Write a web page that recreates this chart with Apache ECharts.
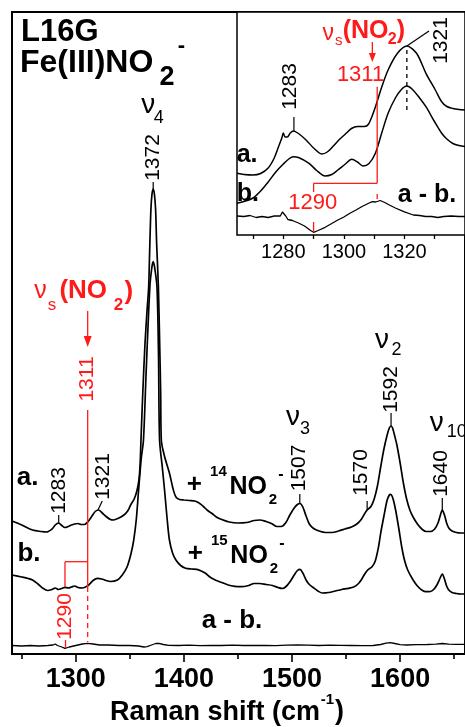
<!DOCTYPE html>
<html><head><meta charset="utf-8">
<script src="https://cdn.jsdelivr.net/npm/echarts@6/dist/echarts.min.js"></script>
<style>html,body{margin:0;padding:0;background:#fff}#c{width:465px;height:727px}</style>
</head><body><div id="c"></div>
<script>
const FONT = "'Liberation Sans', Arial, Helvetica, sans-serif";

// ---- main spectrum a. (+14NO2-) : Raman shift (cm-1), intensity (arb.)
const aShift = [1241,1250,1260,1268,1273,1278,1281,1284,1287,1290,1293,1296,1299,1302,1305,1308,1311,1315,1318,1321,1324,1328,1332,1335,1339,1344.5,1348,1351,1354,1356.5,1358.5,1359.5,1360.3,1362,1364,1366,1367.4,1368.5,1369.5,1370.5,1371.6,1372.7,1373.8,1374.8,1376.4,1377.6,1378.5,1379.1,1382,1386.6,1390,1392.6,1396,1400,1405,1410,1414,1418,1422,1426,1430,1435,1442,1450,1458,1465,1470,1476,1481,1486,1490,1494,1498,1502,1505,1507.4,1510,1513,1516,1520,1525,1531,1537,1543,1549,1555,1560,1564,1567,1569.5,1573,1576,1579,1582,1585,1588,1590,1591.6,1593,1595,1597,1600,1603,1606,1609,1612,1616,1620,1624,1628,1632,1635,1637,1639,1641,1643,1645,1648,1652,1656,1660];
const aInt   = [133,129,124,122.5,122,125,129,131,128.5,126.5,127.5,129,130,130.5,129.5,129.5,132,138,142.5,144,141.5,137.5,134.5,134,135.5,139,143,149.5,155,163,175,190,214,262,310,345,367,410,445,460,465,460,445,410,367,310,262,214,198,181,165,157,154.5,154,153.5,153,151,147.5,143.5,140.5,137,134.5,132,131,131.5,133.5,134,132.5,130.5,127.5,127.5,131,139,146,149.5,150.5,147,138,130,125.5,123,121.5,121.5,123,125,127,130,134.5,140,144,147.5,155,168,187,205,219,226,228,226,218,209,191,171,155,144,137,130,125,122.5,122.5,125,131,138,144,139,131,126,123,121.5,121,121];

// ---- main spectrum b. (+15NO2-)
const bShift = [1241,1250,1256,1260,1265,1270,1274,1278,1281,1284,1287,1290,1293,1296,1299,1302,1306,1309,1312,1316,1320,1324,1328,1332,1338.5,1343,1347.5,1351,1353.6,1356,1358.1,1360.5,1362.6,1365,1368.5,1370.3,1371.6,1373,1375.1,1376.5,1377.5,1380,1382.1,1384.5,1386.6,1389.5,1392.6,1397,1401.6,1407,1412,1416,1420,1424,1429,1435,1441,1447,1453,1460,1465,1470,1476,1482,1487,1491,1494,1498,1502,1505,1507.4,1510,1513,1516,1519,1524,1528,1534,1540,1546,1552,1557,1561,1564,1567,1570,1574,1577,1580,1582,1585,1588,1590,1591,1592.5,1594,1596,1599,1601.5,1604,1607,1612,1616,1620,1624,1628,1631,1634,1637,1639,1641,1643,1645,1648,1652,1656,1660];
const bInt   = [79,77,75.5,74,70,65.5,63.5,64.5,66,64.5,65.5,66.7,66,67,68,66.5,66,67,69,73.5,75.7,75,73.5,72.5,74,79,87.3,100,114,135,164,195,214,280,367,386,392.3,386,367,300,214,187,164,135,114,101,94,88.5,85.7,85,84.7,83,80.7,77,74,71.5,69,67.7,67.3,68.5,70.5,70.5,69.5,68.5,66.5,65.5,67,72,79,83.5,84.7,81,74,69.5,67,63,61,61.5,63,64.5,65.7,67,70,74,79.5,84,87.3,93,107,120.7,138,154,159,159.7,158,153,143,124,107,94,84,74,68,64,62.3,62.5,64.5,69,76,80,75,68,64,61.5,60.5,60,60];

// ---- main difference a - b.
const dShift = [1241,1250,1258,1266,1274,1279,1281,1283,1287,1290,1294,1300,1306,1311,1316,1322,1330,1340,1350,1358,1363,1366,1370,1374,1377,1381,1386,1395,1405,1415,1425,1435,1445,1455,1465,1475,1485,1495,1505,1515,1525,1535,1545,1555,1565,1575,1582,1587,1591,1595,1600,1606,1615,1625,1633,1639,1645,1652,1660];
const dInt   = [8.5,8,8.5,8,8.5,9,10,8.5,7,5.7,7,8.5,10,10.7,10,9,9,8.5,8.5,8,7,7.3,9,10.5,10.7,9.5,8.7,8.5,8.8,8.3,8.7,8.5,8.8,8.5,8.7,8.5,8.3,8.8,9,8.8,8.5,8.8,8.6,8.5,8.3,8.5,9.5,10.8,11.3,10.5,9.3,9,9.3,9.5,9.8,10.5,9.8,9.7,9.7];

// ---- inset traces
const iaShift = [1264.7,1267,1270,1272.5,1275,1277,1278.5,1279.5,1280,1280.6,1281.3,1282.3,1283.3,1285,1287.5,1290,1292.7,1294.5,1296.5,1298.5,1300.5,1302.5,1304.5,1306.8,1308.3,1310.4,1312.5,1314.6,1317.7,1320.8,1324,1327.1,1330.2,1332.3,1334,1336,1338,1340];
const iaInt   = [61.7,60.5,60,61.5,67,77,89,97,102,98,98,102,104,101.5,95,87,81,83,89,95.5,101,106.5,108.5,108.5,111.7,128,148,165,181.7,189,181.7,161.7,145,133.3,128.5,126.5,125.5,125];
const ibShift = [1264.7,1267,1270,1272.5,1275,1277.5,1280,1282,1283.3,1285,1288.5,1291,1293.8,1296,1298,1300.5,1302.6,1304.5,1306.3,1308.3,1310.4,1312.5,1314.6,1317,1319,1320.8,1322.5,1325,1327.1,1330,1332.3,1334,1336,1338,1340];
const ibInt   = [31.7,33.5,37,44,53,63,71,76.5,78.3,77.5,71.7,64.5,59,60.5,65,71,75.7,73,69,71.5,81.7,102,121.7,137,145.5,149,146,137,128.3,113,101.7,96,91.5,89.5,88.5];
const idShift = [1264.7,1267,1269,1271,1273,1275,1277,1279,1279.7,1280.1,1280.8,1281.5,1283,1285,1287,1289,1290,1291.5,1293.8,1296,1298,1300,1302,1304,1306,1308,1309.4,1310.5,1312,1313.5,1315,1317,1319.8,1322.9,1325,1327,1329,1331,1333,1335.4,1338,1340];
const idInt   = [19,18.5,19.5,17.5,18.5,17.5,19,19,23,25,19,15.5,14.5,12,9,4.5,2.7,4.5,7.7,11.5,15,18,21.7,25,28.5,31.5,33.3,33,34.5,32.5,30,27,23.3,20,19.5,18.5,18.5,17.5,18.5,19,18.5,18.5];

// ---- ticks
const mainTickLabels = [1300,1400,1500,1600];
const mainMinorTicks = [1250,1350,1450,1550,1650];
const insetTickLabels = [1280,1300,1320];
const insetAllTicks = [1270,1280,1290,1300,1310,1320,1330];

const zip = (xs, ys) => xs.map((x, i) => [x, ys[i]]);
const lineSeries = (name, xs, ys, xi, yi, w, smooth) => ({
  name, type: 'line', xAxisIndex: xi, yAxisIndex: yi, data: zip(xs, ys),
  showSymbol: false, smooth: smooth, lineStyle: { color: '#000', width: w }, silent: true, z: 20
});
const plain = v => String(v);

const chart = echarts.init(document.getElementById('c'));
chart.setOption({
  animation: false,
  backgroundColor: '#fff',
  grid: [
    { left: 12, top: 12, width: 464.7, height: 642, show: true, borderColor: '#000', borderWidth: 2, backgroundColor: 'transparent' },
    { left: 237, top: 12, width: 241, height: 223, show: true, borderColor: '#000', borderWidth: 1.5, backgroundColor: '#fff', z: 5 }
  ],
  xAxis: [
    { type: 'value', gridIndex: 0, min: 1241, max: 1660, position: 'bottom', axisLine: { show: false }, splitLine: { show: false },
      axisTick: { show: true, customValues: mainTickLabels, length: 8, lineStyle: { color: '#000', width: 1.6 } },
      axisLabel: { customValues: mainTickLabels, formatter: plain, color: '#000', fontSize: 27, fontWeight: 'bold', fontFamily: FONT, margin: 12 } },
    { type: 'value', gridIndex: 0, min: 1241, max: 1660, position: 'bottom', axisLine: { show: false }, splitLine: { show: false },
      axisTick: { show: true, customValues: mainMinorTicks, length: 5, lineStyle: { color: '#000', width: 1.6 } },
      axisLabel: { show: false } },
    { type: 'value', gridIndex: 1, min: 1264.7, max: 1340, position: 'bottom', axisLine: { show: false }, splitLine: { show: false },
      axisTick: { show: true, customValues: insetAllTicks, length: 4, lineStyle: { color: '#000', width: 1.3 } },
      axisLabel: { customValues: insetTickLabels, formatter: plain, color: '#000', fontSize: 20, fontFamily: FONT, margin: 7 } }
  ],
  yAxis: [
    { type: 'value', gridIndex: 0, min: 0, max: 642, show: false },
    { type: 'value', gridIndex: 1, min: 0, max: 223, show: false }
  ],
  series: [
    lineSeries('a.', aShift, aInt, 0, 0, 1.7, 0.3),
    lineSeries('b.', bShift, bInt, 0, 0, 1.7, 0.3),
    lineSeries('a - b.', dShift, dInt, 0, 0, 1.3, false),
    lineSeries('inset a.', iaShift, iaInt, 2, 1, 1.5, 0.3),
    lineSeries('inset b.', ibShift, ibInt, 2, 1, 1.5, 0.3),
    lineSeries('inset a - b.', idShift, idInt, 2, 1, 1.3, false)
  ]
});

// ---------- annotations (positioned through the axes) ----------
const M = (x, y) => chart.convertToPixel({ gridIndex: 0 }, [x, y]);
const I = (x, y) => chart.convertToPixel({ gridIndex: 1 }, [x, y]);
const RED = '#ff1a1a';
const G = [];
function T(p, text, o) {
  o = o || {};
  G.push({ type: 'text', x: p[0] + (o.dx || 0), y: p[1] + (o.dy || 0), rotation: o.rot || 0, z: 100,
    style: { text: text, fill: o.color || '#000', fontSize: o.size || 21, fontWeight: o.weight || 'normal', fontFamily: FONT,
      align: o.align || 'center', verticalAlign: 'middle' } });
}
function L(p1, p2, o) {
  o = o || {};
  G.push({ type: 'line', z: 100, shape: { x1: p1[0], y1: p1[1], x2: p2[0], y2: p2[1] },
    style: { stroke: o.color || '#000', lineWidth: o.w || 1.2, lineDash: o.dash || null } });
}
function arrowDown(p1, p2, color, hw, hl) {
  L(p1, [p2[0], p2[1] - hl + 1], { color: color, w: 1.3 });
  G.push({ type: 'polygon', z: 100, shape: { points: [[p2[0] - hw, p2[1] - hl], [p2[0] + hw, p2[1] - hl], [p2[0], p2[1]]] }, style: { fill: color } });
}
function chem(p, parts, color) {
  parts.forEach(q => T(p, q[0], { dx: q[1], dy: q[2], size: q[3], weight: q[4], align: q[5] || 'center', color: color }));
}
const V = Math.PI / 2;

// titles
G.push({ type: 'text', x: 21, y: 32, z: 100, style: { text: 'L16G', fontSize: 31, fontWeight: 'bold', fontFamily: FONT, fill: '#000', align: 'left', verticalAlign: 'middle' } });
G.push({ type: 'text', x: 20, y: 63, z: 100, style: { text: 'Fe(III)NO', fontSize: 32, fontWeight: 'bold', fontFamily: FONT, fill: '#000', align: 'left', verticalAlign: 'middle' } });
G.push({ type: 'text', x: 167, y: 78, z: 100, style: { text: '2', fontSize: 27, fontWeight: 'bold', fontFamily: FONT, fill: '#000', align: 'center', verticalAlign: 'middle' } });
G.push({ type: 'text', x: 181.5, y: 46, z: 100, style: { text: '-', fontSize: 22, fontWeight: 'bold', fontFamily: FONT, fill: '#000', align: 'center', verticalAlign: 'middle' } });

// axis title
G.push({ type: 'text', x: 110, y: 713, z: 100, style: { text: 'Raman shift (cm', fontSize: 27, fontWeight: 'bold', fontFamily: FONT, fill: '#000', align: 'left', verticalAlign: 'middle' } });
G.push({ type: 'text', x: 327.5, y: 700, z: 100, style: { text: '-1', fontSize: 15, fontWeight: 'bold', fontFamily: FONT, fill: '#000', align: 'center', verticalAlign: 'middle' } });
G.push({ type: 'text', x: 335, y: 712, z: 100, style: { text: ')', fontSize: 27, fontWeight: 'bold', fontFamily: FONT, fill: '#000', align: 'left', verticalAlign: 'middle' } });

// main: trace labels
T(M(1245.5, 176), 'a.', { size: 26, weight: 'bold', align: 'left' });
T(M(1246, 100.5), 'b.', { size: 26, weight: 'bold', align: 'left' });
T(M(1444.5, 33), 'a - b.', { size: 26, weight: 'bold' });
const isoParts = (m) => [['+', 0, 0, 26, 'bold'], [m, 24, -13, 15, 'bold'], ['NO', 35, 2.5, 25, 'bold', 'left'], ['2', 78.5, 15, 15, 'bold'], ['-', 86.5, -10, 16, 'bold']];
chem(M(1409.7, 169), isoParts('14'));
chem(M(1410.6, 100), isoParts('15'));

// main: mode labels
chem(M(1367.1, 549), [['ν', 0, 0, 28, 'normal'], ['4', 10.5, 13, 18, 'normal']]);
chem(M(1500.8, 236.5), [['ν', 0, 0, 28, 'normal'], ['3', 12, 11.5, 18, 'normal']]);
chem(M(1583.3, 314), [['ν', 0, 0, 28, 'normal'], ['2', 14.5, 10, 18, 'normal']]);
chem(M(1633.8, 230.5), [['ν', 0, 0, 28, 'normal'], ['10', 10, 9, 18, 'normal', 'left']]);

// main: peak labels + connectors
T(M(1371.9, 496.5), '1372', { rot: V });   L(M(1371.6, 472), M(1371.6, 465));
T(M(1284.4, 163.5), '1283', { rot: V });   L(M(1284.2, 139), M(1284.2, 130));
T(M(1325, 177.5), '1321', { rot: V });     L(M(1320.5, 144), M(1324.5, 153));
T(M(1507.1, 186), '1507', { rot: V });     L(M(1507.2, 160), M(1507.2, 150));
T(M(1563.9, 181.5), '1570', { rot: V });   L(M(1569.5, 153), M(1569.5, 144));
T(M(1591.9, 264.5), '1592', { rot: V });   L(M(1591.6, 241), M(1591.6, 228));
T(M(1638.3, 180.5), '1640', { rot: V });   L(M(1639, 156), M(1639, 144));

// main: red nu_s(NO2) assignment
chem(M(1267.3, 363), [['ν', 0, 0, 25, 'normal'], ['s', 11.5, 14, 17, 'normal'], ['(NO', 19, 0, 26, 'bold', 'left'], ['2', 78, 14, 17, 'bold'], [')', 84, 1, 26, 'bold', 'left']], RED);
arrowDown(M(1311, 343), M(1311, 307), RED, 4, 11);
T(M(1310.1, 275), '1311', { rot: V, color: RED });
L(M(1311, 244), M(1311, 67), { color: RED, w: 1.3 });
L(M(1311, 67), M(1311, 12), { color: RED, w: 1.3, dash: [5, 4] });
L(M(1290, 92.3), M(1311, 92.3), { color: RED, w: 1.3 });
L(M(1290, 92.3), M(1290, 67), { color: RED, w: 1.3 });
T(M(1290.4, 37.5), '1290', { rot: V, color: RED });
L(M(1290.5, 14), M(1290.5, 6), { color: RED, w: 1.3 });

// inset annotations
T(I(1266.25, 80), 'a.', { size: 25, weight: 'bold', align: 'left', dx: -5 });
T(I(1265.6, 41), 'b.', { size: 25, weight: 'bold', align: 'left', dx: -3 });
T(I(1317.8, 39.5), 'a - b.', { size: 25, weight: 'bold', align: 'left' });
T(I(1282.3, 148.5), '1283', { rot: V });  L(I(1283.5, 118), I(1283.5, 104));
T(I(1332.2, 194.5), '1321', { rot: V });  L(I(1320.8, 189), I(1328.1, 204));
L(I(1320.8, 185), I(1320.8, 123), { dash: [4, 4], w: 1.3 });
chem(I(1294.8, 201), [['ν', 0, 0, 23, 'normal'], ['s', 10.5, 7, 15, 'normal'], ['(NO', 14.5, -3, 25, 'bold', 'left'], ['2', 64, 6, 16, 'bold'], [')', 68.5, -3, 25, 'bold', 'left']], RED);
arrowDown(I(1309.4, 193), I(1309.4, 173), RED, 3.5, 9);
T(I(1305.5, 160), '1311', { color: RED, size: 22 });
L(I(1311, 148.3), I(1311, 51.7), { color: RED, w: 1.3 });
L(I(1290, 51.7), I(1311, 51.7), { color: RED, w: 1.3 });
L(I(1290, 51.7), I(1290, 43), { color: RED, w: 1.3 });
T(I(1289.7, 32.5), '1290', { color: RED, size: 22 });
L(I(1290, 13), I(1290, 3), { color: RED, w: 1.3 });
L(I(1311, 41), I(1311, 36), { color: RED, w: 1.3 });

chart.setOption({ graphic: G });
</script>
</body></html>
